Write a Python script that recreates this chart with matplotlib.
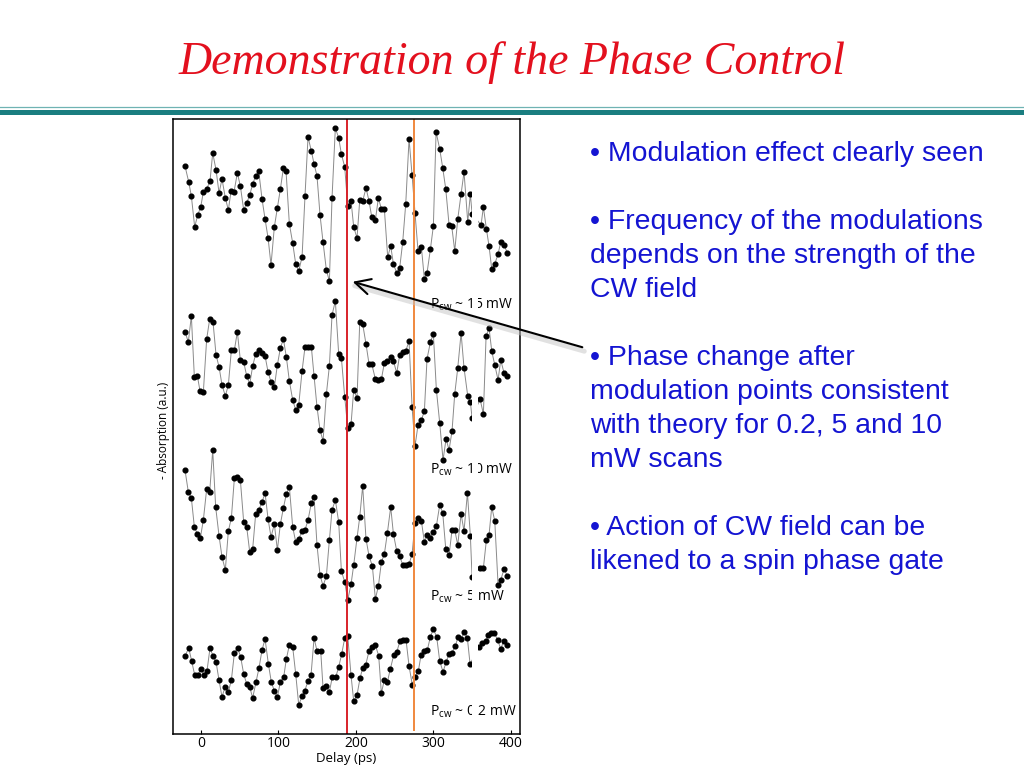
import matplotlib
matplotlib.use("Agg")
import matplotlib.pyplot as plt

# --- data (delay in ps, absorption in a.u., traces stacked) ---
delay_15 = [-20.7, -15.9, -12.5, -8.2, -4.3, -0.4, 3.0, 7.3, 11.6,
            15.1, 19.4, 23.3, 27.1, 31.4, 35.3, 38.8, 42.6, 46.9, 50.8,
            55.1, 59.0, 62.9, 66.7, 70.6, 74.5, 78.8, 82.7, 86.6, 90.4,
            94.7, 98.6, 102.5, 106.4, 109.8, 114.1, 118.4, 122.3, 126.2, 130.5,
            134.3, 138.2, 142.5, 146.0, 149.8, 153.7, 157.6, 161.9, 165.8, 169.2,
            173.5, 177.8, 181.3, 185.6, 189.5, 193.8, 197.2, 201.5, 205.0, 208.8,
            213.1, 217.0, 220.5, 225.2, 229.1, 233.0, 236.8, 241.1, 245.0, 248.5,
            252.8, 256.6, 260.5, 264.4, 268.7, 272.6, 276.4, 280.3, 284.6, 288.5,
            291.9, 296.3, 300.1, 303.6, 308.3, 312.2, 316.1, 320.4, 323.8, 327.7,
            331.6, 335.9, 339.7, 344.5, 347.9, 350.1, 361.7, 364.7, 368.6, 372.0,
            375.5, 379.4, 383.7, 387.1, 391.4, 395.7]
absorb_15 = [5.68, 5.52, 5.38, 5.07, 5.19, 5.27, 5.42, 5.45, 5.53,
             5.81, 5.64, 5.41, 5.55, 5.36, 5.24, 5.43, 5.42, 5.61, 5.48,
             5.24, 5.31, 5.39, 5.50, 5.58, 5.63, 5.35, 5.15, 4.96, 4.69,
             5.07, 5.26, 5.45, 5.66, 5.63, 5.10, 4.91, 4.70, 4.63, 4.77,
             5.38, 5.97, 5.83, 5.70, 5.58, 5.19, 4.92, 4.64, 4.53, 5.36,
             6.06, 5.96, 5.80, 5.67, 5.28, 5.33, 5.07, 4.96, 5.34, 5.33,
             5.46, 5.33, 5.17, 5.14, 5.36, 5.25, 5.25, 4.77, 4.88, 4.70,
             4.61, 4.66, 4.92, 5.30, 5.95, 5.59, 5.21, 4.83, 4.87, 4.55,
             4.61, 4.85, 5.08, 6.02, 5.85, 5.66, 5.45, 5.09, 5.08, 4.83,
             5.15, 5.40, 5.62, 5.12, 5.40, 5.20, 5.09, 5.27, 5.05, 4.88,
             4.65, 4.70, 4.80, 4.92, 4.89, 4.81]

delay_10 = [-20.7, -16.4, -12.5, -8.6, -4.7, -1.3, 3.0, 7.3, 11.2, 15.5,
            19.4, 23.3, 27.1, 31.4, 35.3, 39.2, 43.1, 46.9, 50.8, 55.1,
            59.0, 62.9, 66.7, 70.6, 74.5, 78.8, 82.7, 86.6, 90.4, 94.7,
            98.6, 102.5, 106.4, 110.2, 114.1, 118.4, 122.3, 126.2, 130.5, 134.3,
            138.2, 142.5, 146.0, 149.8, 153.7, 157.6, 161.9, 165.8, 169.2, 173.5,
            177.8, 181.3, 185.6, 189.5, 193.8, 197.2, 201.5, 205.0, 208.8, 213.1,
            217.0, 220.5, 225.2, 229.1, 233.0, 236.8, 240.7, 245.0, 248.5, 252.8,
            256.6, 260.5, 264.4, 268.7, 272.6, 276.4, 280.3, 284.6, 288.5, 291.9,
            296.3, 300.1, 304.0, 308.3, 312.6, 316.5, 320.4, 324.2, 327.7, 331.6,
            335.9, 339.7, 344.5, 347.9, 350.1, 360.4, 364.7, 368.2, 372.0, 375.5,
            379.4, 383.7, 387.1, 391.4, 395.7]
absorb_10 = [4.02, 3.92, 4.18, 3.57, 3.58, 3.43, 3.42, 3.95, 4.15, 4.12,
             3.79, 3.67, 3.49, 3.38, 3.49, 3.84, 3.84, 4.02, 3.74, 3.72,
             3.58, 3.50, 3.68, 3.80, 3.84, 3.81, 3.78, 3.62, 3.52, 3.47,
             3.69, 3.86, 3.95, 3.77, 3.53, 3.34, 3.24, 3.29, 3.63, 3.87,
             3.87, 3.87, 3.58, 3.27, 3.04, 2.93, 3.40, 3.68, 4.19, 4.33,
             3.80, 3.76, 3.37, 3.06, 3.10, 3.44, 3.36, 4.12, 4.10, 3.90,
             3.70, 3.70, 3.55, 3.54, 3.55, 3.71, 3.73, 3.77, 3.73, 3.61,
             3.79, 3.82, 3.83, 3.93, 3.27, 2.88, 3.09, 3.14, 3.23, 3.75,
             3.92, 4.00, 3.44, 3.11, 2.74, 2.95, 2.84, 3.03, 3.40, 3.66,
             4.01, 3.66, 3.38, 3.32, 3.16, 3.35, 3.20, 3.98, 4.06, 3.83,
             3.69, 3.54, 3.74, 3.61, 3.58]

delay_5 = [-20.7, -16.4, -12.5, -8.6, -4.7, -0.9, 3.0, 7.3, 11.2, 15.1,
           18.9, 23.3, 27.1, 31.4, 35.3, 39.2, 43.1, 46.9, 50.8, 55.1,
           59.0, 62.9, 66.7, 70.6, 74.5, 78.8, 82.7, 86.6, 90.4, 94.7,
           98.6, 102.5, 106.4, 110.2, 114.1, 118.4, 122.3, 126.2, 130.5, 134.3,
           138.2, 142.5, 146.0, 149.8, 153.7, 157.6, 161.9, 165.8, 169.2, 173.5,
           177.8, 181.3, 185.6, 189.5, 193.8, 197.2, 201.5, 205.0, 208.8, 213.1,
           217.0, 221.3, 225.2, 229.1, 233.0, 236.8, 240.7, 245.0, 248.5, 252.8,
           256.6, 260.5, 264.4, 268.7, 272.6, 276.4, 280.3, 284.6, 288.5, 291.9,
           296.3, 300.1, 304.0, 308.3, 312.2, 316.1, 320.4, 324.2, 327.7, 331.6,
           335.9, 339.7, 344.1, 347.9, 350.1, 360.4, 364.7, 368.6, 372.0, 375.5,
           379.4, 383.7, 387.1, 391.4, 395.7]
absorb_5 = [2.64, 2.42, 2.36, 2.07, 2.00, 1.96, 2.14, 2.45, 2.42, 2.84,
            2.27, 1.98, 1.77, 1.64, 2.03, 2.16, 2.56, 2.57, 2.54, 2.12,
            2.07, 1.82, 1.85, 2.20, 2.24, 2.32, 2.41, 2.15, 1.97, 2.10,
            1.84, 2.10, 2.26, 2.40, 2.47, 2.07, 1.92, 1.95, 2.03, 2.04,
            2.14, 2.31, 2.37, 1.89, 1.59, 1.48, 1.58, 1.94, 2.24, 2.34,
            2.12, 1.63, 1.52, 1.34, 1.50, 1.69, 1.96, 2.17, 2.48, 1.95,
            1.78, 1.68, 1.35, 1.48, 1.72, 1.80, 2.01, 2.27, 2.00, 1.83,
            1.78, 1.69, 1.69, 1.70, 1.80, 2.11, 2.16, 2.13, 1.92, 1.99,
            1.96, 2.02, 2.08, 2.29, 2.21, 1.85, 1.79, 2.04, 2.04, 1.89,
            2.20, 2.03, 2.41, 1.98, 1.57, 1.66, 1.66, 1.94, 1.99, 2.27,
            2.13, 1.49, 1.54, 1.65, 1.58]

delay_02 = [-20.7, -15.9, -12.1, -8.2, -4.3, 0.0, 3.9, 7.7, 11.6, 15.5,
            19.4, 23.2, 27.1, 31.0, 35.3, 39.2, 43.1, 47.3, 51.2, 55.1,
            59.0, 62.9, 66.7, 71.0, 74.9, 78.8, 82.7, 87.0, 90.8, 94.7,
            98.6, 102.5, 106.8, 110.2, 114.1, 118.4, 122.3, 126.2, 130.5, 133.9,
            138.2, 142.1, 146.0, 149.8, 154.6, 157.6, 161.5, 165.7, 169.6, 174.0,
            177.8, 181.7, 185.6, 189.5,
            193.7, 197.2, 201.5, 205.4, 208.8, 212.7, 217.0, 220.9, 225.2, 229.5,
            232.9, 236.8, 240.7, 244.5, 248.9, 252.8, 257.0, 260.9, 264.8, 268.7,
            272.9, 276.0, 280.7, 284.2, 288.0, 292.3, 296.2, 300.1, 304.4, 308.3,
            312.6, 316.5, 320.3, 323.8, 328.5, 331.9, 335.8, 340.1, 344.0, 347.5,
            359.5, 363.0, 367.7, 371.1, 375.0, 378.8, 383.2, 387.1, 391.0, 395.7]
absorb_02 = [0.78, 0.86, 0.73, 0.59, 0.59, 0.65, 0.59, 0.63, 0.86, 0.78,
             0.72, 0.54, 0.37, 0.47, 0.42, 0.54, 0.81, 0.86, 0.77, 0.60,
             0.50, 0.47, 0.36, 0.52, 0.66, 0.84, 0.95, 0.70, 0.52, 0.43,
             0.37, 0.52, 0.57, 0.75, 0.89, 0.87, 0.60, 0.29, 0.38, 0.43,
             0.53, 0.59, 0.96, 0.83, 0.83, 0.46, 0.48, 0.42, 0.57, 0.57,
             0.67, 0.80, 0.96, 0.98,
             0.59, 0.33, 0.39, 0.56, 0.66, 0.69, 0.83, 0.87, 0.89, 0.78,
             0.41, 0.54, 0.52, 0.65, 0.79, 0.82, 0.93, 0.94, 0.94, 0.68,
             0.49, 0.57, 0.63, 0.79, 0.83, 0.84, 0.97, 1.05, 0.97, 0.73,
             0.62, 0.72, 0.80, 0.81, 0.88, 0.97, 0.95, 1.02, 0.96, 0.70,
             0.87, 0.91, 0.93, 0.99, 1.01, 1.01, 0.94, 0.85, 0.93, 0.89]

power_labels = ["15", "10", "5", "0.2"]
label_levels = [4.29, 2.64, 1.37, 0.22]
phase_marks = [188, 275]   # delays of the red / orange guide lines (ps)

bullets = [
    "\u2022 Modulation effect clearly seen",
    "",
    "\u2022 Frequency of the modulations",
    "depends on the strength of the",
    "CW field",
    "",
    "\u2022 Phase change after",
    "modulation points consistent",
    "with theory for 0.2, 5 and 10",
    "mW scans",
    "",
    "\u2022 Action of CW field can be",
    "likened to a spin phase gate",
]

plt.rcParams["mathtext.fontset"] = "custom"
plt.rcParams["mathtext.rm"] = "Open Sans"

W, H = 1024, 768
fig = plt.figure(figsize=(W / 100, H / 100), dpi=100)
fig.patch.set_facecolor("white")

# title + teal rule
fig.text(0.5, 1 - 74 / H, "Demonstration of the Phase Control",
         ha="center", va="baseline", fontsize=33, style="italic",
         family="Liberation Serif", color="#E3101E")
fig.add_artist(plt.Line2D([0, 1], [1 - 106.5 / H] * 2, color="#6FB3B3", lw=0.9))
fig.add_artist(plt.Line2D([0, 1], [1 - 111.5 / H] * 2, color="#1A7E80", lw=3.6))

# data panel
ax = fig.add_axes([173 / W, 34 / H, 347 / W, 615 / H])
traces = [(delay_15, absorb_15), (delay_10, absorb_10),
          (delay_5, absorb_5), (delay_02, absorb_02)]
for d, a in traces:
    ax.plot(d, a, color="#8a8a8a", lw=0.7, marker="o", markersize=3.4,
            markerfacecolor="black", markeredgecolor="black", zorder=2)

ax.axvline(phase_marks[0], color="#D8222A", lw=1.4, zorder=2.2)
ax.plot([phase_marks[1]] * 2, [0.04, 6.15], color="#F0883E", lw=1.4, zorder=2.2)

for p, lvl in zip(power_labels, label_levels):
    ax.text(296, lvl, r"P$_{\mathrm{cw}}$ ~ " + p + " mW", fontsize=10,
            family="Open Sans", va="center", ha="left", zorder=2.1)

# white strip that blanks part of the scan in the original figure
ax.axvspan(350.5, 357.5, color="white", lw=0, zorder=2.3)

ax.set_xlim(-36.2, 412)
ax.set_ylim(0, 6.15)
ax.set_yticks([])
ax.set_xticks([0, 100, 200, 300, 400])
ax.tick_params(axis="x", direction="in", length=3, pad=1.5, labelsize=10)
for lbl in ax.get_xticklabels():
    lbl.set_family("Open Sans")
for s in ax.spines.values():
    s.set_linewidth(1.1)
    s.set_zorder(2.5)
ax.set_xlabel("Delay (ps)", fontsize=9.5, family="Open Sans", labelpad=1)
fig.text(163 / W, 1 - 430 / H, "- Absorption (a.u.)", rotation=90,
         ha="center", va="center", fontsize=8.5, family="Open Sans")

# arrow from text to the plot (with soft shadow)
head = (350, H - 281)
tail = (585, H - 348)
ax.annotate("", xy=(head[0] + 2, head[1] - 4), xycoords="figure pixels",
            xytext=(tail[0] + 2, tail[1] - 4), textcoords="figure pixels",
            arrowprops=dict(arrowstyle="-", lw=3.5, color="#c4c4c4", alpha=0.5),
            annotation_clip=False)
ax.annotate("", xy=head, xycoords="figure pixels",
            xytext=tail, textcoords="figure pixels",
            arrowprops=dict(arrowstyle="->,head_length=0.55,head_width=0.28",
                            lw=1.5, color="black", mutation_scale=20),
            annotation_clip=False)

# bullet text
y = 161
for line in bullets:
    if line:
        fig.text(590 / W, 1 - y / H, line, ha="left", va="baseline",
                 fontsize=20.4, family="Liberation Sans", color="#1414D2")
    y += 34

fig.savefig("out.png", dpi=100)
